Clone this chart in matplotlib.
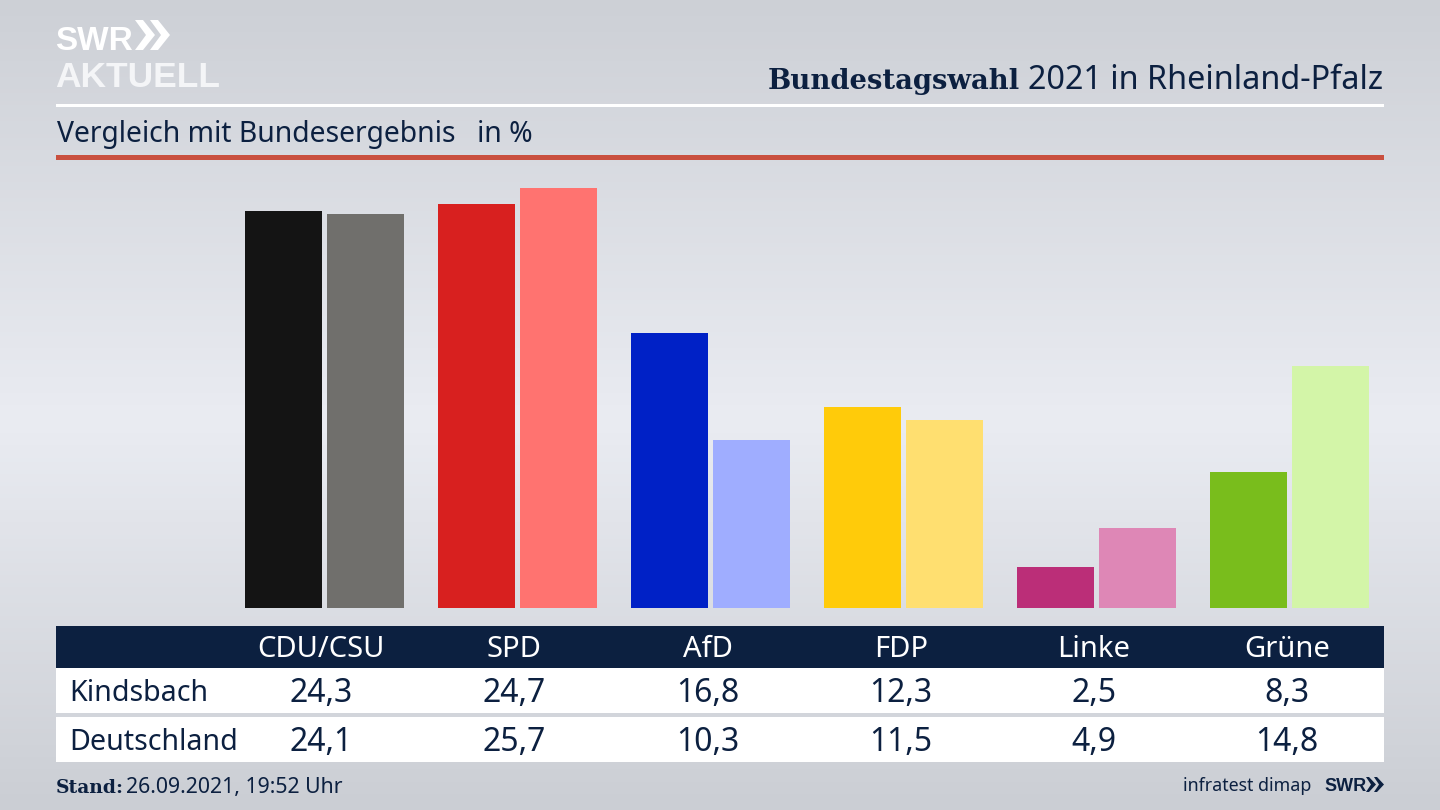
import matplotlib
matplotlib.use("Agg")
import matplotlib.pyplot as plt
import numpy as np
from matplotlib.patches import Polygon, Rectangle

plt.rcParams["font.family"] = ["Noto Sans", "DejaVu Sans"]

PARTIES = ["CDU/CSU", "SPD", "AfD", "FDP", "Linke", "Grüne"]
KINDSBACH = [24.3, 24.7, 16.8, 12.3, 2.5, 8.3]
DEUTSCHLAND = [24.1, 25.7, 10.3, 11.5, 4.9, 14.8]
KINDSBACH_COLORS = ["#141414", "#d8201f", "#0021c6", "#ffcb0a", "#bb2e78", "#79bd1c"]
DEUTSCHLAND_COLORS = ["#706f6c", "#ff7370", "#9fadff", "#ffdf70", "#de87b6", "#d3f5a8"]

NAVY = "#0c2040"
SERIF_BOLD = ["DejaVu Serif"]
LOGO_FONT = ["Liberation Sans", "DejaVu Sans"]
W, H = 1440, 810

fig = plt.figure(figsize=(14.4, 8.1), dpi=100)

# Hintergrund und Texte in Pixelkoordinaten
bg = fig.add_axes([0, 0, 1, 1])
bg.set_xlim(0, W)
bg.set_ylim(H, 0)
bg.axis("off")

top = np.array([205, 208, 214])
mid = np.array([234, 236, 242])
low = np.array([203, 206, 212])
rows = np.linspace(0, 1, 200)
grad = np.zeros((200, 1, 3))
for i, t in enumerate(rows):
    if t < 0.52:
        grad[i, 0] = top + (mid - top) * (t / 0.52)
    else:
        grad[i, 0] = mid + (low - mid) * ((t - 0.52) / 0.48)
bg.imshow(grad / 255, extent=(0, W, H, 0), aspect="auto", zorder=0)

# Logo
bg.text(55, 50, "SWR", color="white", fontsize=24, fontweight="bold", family=LOGO_FONT,
        va="baseline", ha="left", zorder=3)
for x0 in (135, 150):
    bg.add_patch(Polygon([(x0, 20), (x0 + 8, 20), (x0 + 20, 35), (x0 + 8, 50), (x0, 50), (x0 + 11, 35)],
                         closed=True, fc="white", ec="none", zorder=3))
bg.text(55, 87, "AKTUELL", color="#f4f5f7", fontsize=25.5, fontweight="bold", family=LOGO_FONT,
        va="baseline", ha="left", zorder=3)

# Titel
title_y = 89
bg.text(1383, title_y, "2021 in Rheinland-Pfalz", color=NAVY, fontsize=23.3, ha="right", va="baseline", zorder=3)
bg.text(1020, title_y, "Bundestagswahl", color=NAVY, fontsize=19.8, fontweight="bold", family=SERIF_BOLD,
        ha="right", va="baseline", zorder=3)

bg.add_patch(Rectangle((56, 104), 1328, 3, fc="white", ec="none", zorder=2))
bg.text(57, 142, "Vergleich mit Bundesergebnis", color=NAVY, fontsize=20.4, ha="left", va="baseline", zorder=3)
bg.text(477, 142, "in %", color=NAVY, fontsize=20.4, ha="left", va="baseline", zorder=3)
bg.add_patch(Rectangle((56, 155), 1328, 5, fc="#c9503f", ec="none", zorder=2))

# Tabelle
bg.add_patch(Rectangle((56, 626), 1328, 42, fc=NAVY, ec="none", zorder=2))
bg.add_patch(Rectangle((56, 668), 1328, 45, fc="white", ec="none", zorder=2))
bg.add_patch(Rectangle((56, 717), 1328, 45, fc="white", ec="none", zorder=2))

col_x = [321, 514, 708, 901, 1094, 1287]
for x, party, a, b in zip(col_x, PARTIES, KINDSBACH, DEUTSCHLAND):
    bg.text(x, 657, party, color="white", fontsize=21, ha="center", va="baseline", zorder=3)
    bg.text(x, 702, f"{a:.1f}".replace(".", ","), color=NAVY, fontsize=23, ha="center", va="baseline", zorder=3)
    bg.text(x, 751, f"{b:.1f}".replace(".", ","), color=NAVY, fontsize=23, ha="center", va="baseline", zorder=3)
bg.text(69, 701, "Kindsbach", color=NAVY, fontsize=20.6, ha="left", va="baseline", zorder=3)
bg.text(69, 750, "Deutschland", color=NAVY, fontsize=20.6, ha="left", va="baseline", zorder=3)

# Fusszeile
bg.text(56, 793, "Stand:", color=NAVY, fontsize=13.5, fontweight="bold", family=SERIF_BOLD,
        ha="left", va="baseline", zorder=3)
bg.text(126, 793, "26.09.2021, 19:52 Uhr", color=NAVY, fontsize=15.3, ha="left", va="baseline", zorder=3)
bg.text(1311, 791, "infratest dimap", color=NAVY, fontsize=12.8, ha="right", va="baseline", zorder=3)
bg.text(1324, 791, "SWR", color=NAVY, fontsize=13, fontweight="bold", family=LOGO_FONT,
        ha="left", va="baseline", zorder=3)
for x0 in (1366, 1374):
    bg.add_patch(Polygon([(x0, 777), (x0 + 3, 777), (x0 + 10, 784.5), (x0 + 3, 792), (x0, 792), (x0 + 5, 784.5)],
                         closed=True, fc=NAVY, ec="none", zorder=3))

# Balken
PX_PER_UNIT = 16.34
PX_PER_GROUP = 193.0
base_px, top_px = 608, 170
ax = fig.add_axes([0, 1 - base_px / H, 1, (base_px - top_px) / H])
ax.patch.set_alpha(0)
ax.set_xlim(-324.4 / PX_PER_GROUP, (W - 324.4) / PX_PER_GROUP)
ax.set_ylim(0, (base_px - top_px) / PX_PER_UNIT)
ax.axis("off")

idx = np.arange(len(PARTIES))
bar_w = 77 / PX_PER_GROUP
off = 41 / PX_PER_GROUP
ax.bar(idx - off, KINDSBACH, width=bar_w, color=KINDSBACH_COLORS)
ax.bar(idx + off, DEUTSCHLAND, width=bar_w, color=DEUTSCHLAND_COLORS)

fig.savefig("out.png", dpi=100)
